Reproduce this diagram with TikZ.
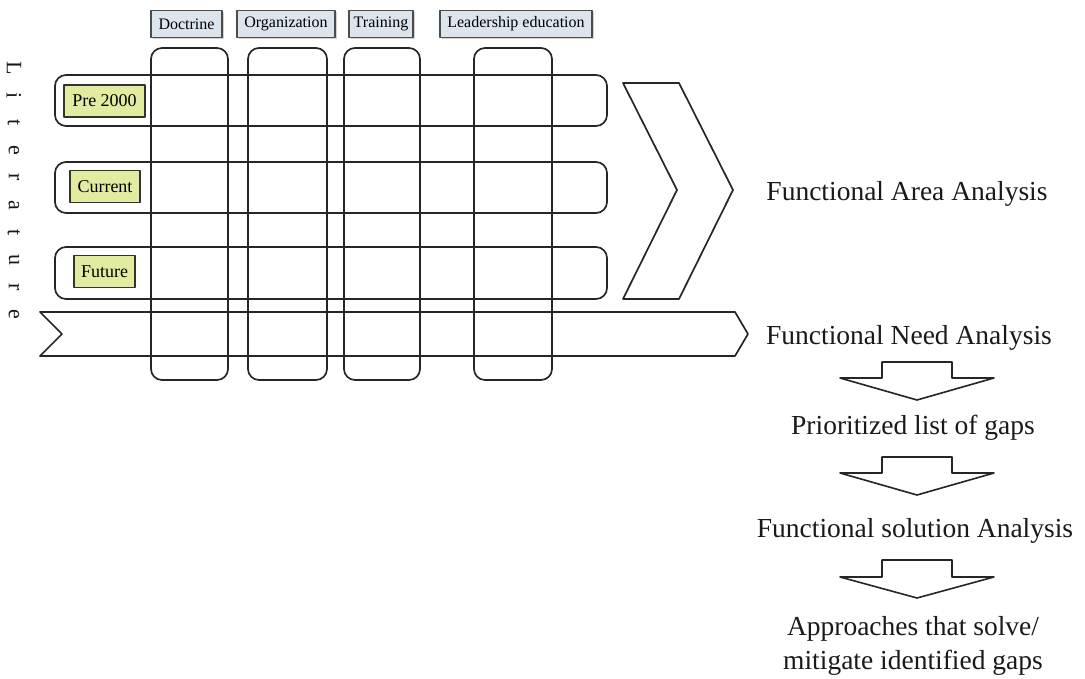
\documentclass[tikz,border=0pt]{standalone}
\usepackage{fontspec}
\setmainfont{Liberation Serif}
\usetikzlibrary{shadows}
\definecolor{lblue}{HTML}{DCE5EC}
\definecolor{lgreen}{HTML}{E3EBA0}
\begin{document}
\begin{tikzpicture}[x=1pt,y=-1pt,line join=round,
  outl/.style={draw=black!85,line width=1.7pt},
  colbox/.style={outl,rounded corners=11pt},
  toplbl/.style={draw=black!70,line width=1.3pt,fill=lblue,inner sep=0pt,
    font=\fontsize{16}{18}\selectfont,minimum height=27pt,
    drop shadow={shadow xshift=1.5pt,shadow yshift=-1.5pt,opacity=0.35}},
  rowlbl/.style={draw=black!80,line width=1.5pt,fill=lgreen,inner sep=0pt,
    font=\fontsize{18}{20}\selectfont,minimum height=32pt},
  bigtxt/.style={font=\fontsize{27.5}{34}\selectfont,inner sep=0pt,text=black!90},
  letter/.style={font=\fontsize{22}{24}\selectfont,rotate=-90,inner sep=0pt,text=black!90},
  downarrow/.style={outl,line width=1.6pt}]
\useasboundingbox (0,0) rectangle (1085,679);

% columns
\draw[colbox] (151,48) rectangle (228,380);
\draw[colbox] (248,48) rectangle (327,380);
\draw[colbox] (344,48) rectangle (420,380);
\draw[colbox] (474,48) rectangle (552,380);

% rows
\draw[colbox] (55,75) rectangle (607,126);
\draw[colbox] (55,162) rectangle (607,213);
\draw[colbox] (55,247) rectangle (607,299);

% bottom band (chevron arrow)
\draw[outl] (40,312) -- (735,312) -- (748,334) -- (735,356) -- (40,356) -- (62,334) -- cycle;

% big chevron
\draw[outl] (623,83) -- (679,83) -- (733,190) -- (679,299) -- (623,299) -- (677,190) -- cycle;

% top labels
\node[toplbl,minimum width=71pt] (doc) at (186.5,24) {Doctrine};
\node[toplbl,minimum width=98pt] (org) at (286,24) {Organization};
\node[toplbl,minimum width=64pt] (tra) at (381,24) {Training};
\node[toplbl,minimum width=152pt] (lea) at (516,24) {Leadership education};

% row labels
\node[rowlbl,minimum width=81pt] (pre) at (104.5,101) {Pre 2000};
\node[rowlbl,minimum width=70pt] (cur) at (105,186.5) {Current};
\node[rowlbl,minimum width=61pt] (fut) at (104.5,271.5) {Future};

% Literature
\foreach \c [count=\i] in {L,i,t,e,r,a,t,u,r,e}{
  \node[letter] (lit\i) at (14,{68+27.4*(\i-1)}) {\c};
}

% right side texts
\node[bigtxt] (faa) at (907,194) {Functional Area Analysis};
\node[bigtxt] (fna) at (909,338) {Functional Need Analysis};
\node[bigtxt] (pri) at (913,428) {Prioritized list of gaps};
\node[bigtxt] (fsa) at (915,531) {Functional solution Analysis};
\node[bigtxt,align=center] (app) at (913,646) {Approaches that solve/\\mitigate identified gaps};

% down arrows
\draw[downarrow] (882,362) -- (882,378) -- (840,378) -- (917,400) -- (994,378) -- (952,378) -- (952,362) -- cycle;
\draw[downarrow] (882,457) -- (882,473) -- (840,473) -- (917,495) -- (994,473) -- (952,473) -- (952,457) -- cycle;
\draw[downarrow] (882,560) -- (882,577) -- (840,577) -- (917,598) -- (994,577) -- (952,577) -- (952,560) -- cycle;
\end{tikzpicture}
\end{document}
